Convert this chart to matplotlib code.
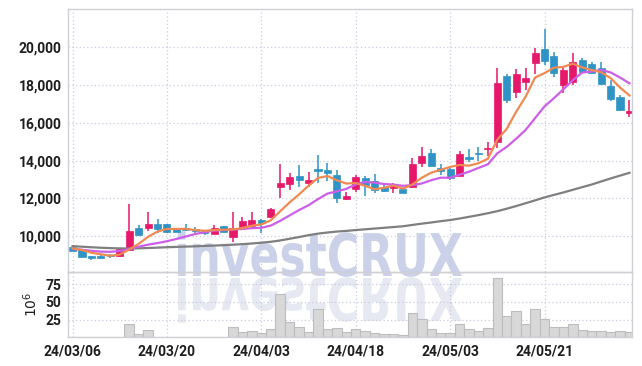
import matplotlib
matplotlib.use('Agg')
import matplotlib.pyplot as plt
import numpy as np
from datetime import date
from matplotlib.textpath import TextPath
from matplotlib.patches import PathPatch
from matplotlib.font_manager import FontProperties
from matplotlib.transforms import Affine2D, IdentityTransform
from matplotlib.ticker import FuncFormatter, FixedLocator

# ---------------- data ----------------
dates = [
    "2024-03-06", "2024-03-07", "2024-03-08", "2024-03-11", "2024-03-12", "2024-03-13", "2024-03-14", "2024-03-15",
    "2024-03-18", "2024-03-19", "2024-03-20", "2024-03-21", "2024-03-22", "2024-03-25", "2024-03-26", "2024-03-27",
    "2024-03-28", "2024-03-29", "2024-04-01", "2024-04-02", "2024-04-03", "2024-04-04", "2024-04-05", "2024-04-08",
    "2024-04-09", "2024-04-11", "2024-04-12", "2024-04-15", "2024-04-16", "2024-04-17", "2024-04-18", "2024-04-19",
    "2024-04-22", "2024-04-23", "2024-04-24", "2024-04-25", "2024-04-26", "2024-04-29", "2024-04-30", "2024-05-02",
    "2024-05-03", "2024-05-07", "2024-05-08", "2024-05-09", "2024-05-10", "2024-05-13", "2024-05-14", "2024-05-16",
    "2024-05-17", "2024-05-20", "2024-05-21", "2024-05-22", "2024-05-23", "2024-05-24", "2024-05-27", "2024-05-28",
    "2024-05-29", "2024-05-30", "2024-05-31", "2024-06-03",
]

open_ = [9430, 9300, 8970, 8980, 8970, 8970, 9300, 10450, 10420, 10640,
         10630, 10390, 10420, 10400, 10300, 10110, 10540, 9950, 10510, 10560,
         10860, 11000, 12630, 12780, 13190, 12810, 13540, 13510, 13240, 11950,
         12520, 13110, 12920, 12620, 12540, 12520, 12590, 13870, 14390, 13600,
         13550, 13210, 14210, 14420, 14600, 15005, 18480, 17650, 18180, 19185,
         19910, 19540, 18000, 18180, 19330, 19120, 18920, 17950, 17390, 16530]
high = [9450, 9330, 8980, 9000, 9060, 9310, 11700, 10600, 11290, 10900,
        10650, 10400, 10650, 10480, 10320, 10600, 10560, 11290, 11000, 11270,
        10900, 11480, 13800, 13360, 13770, 13400, 14300, 13870, 13510, 12330,
        13240, 13190, 13290, 12770, 12830, 12580, 14130, 14710, 14600, 13800,
        13740, 14530, 14600, 14710, 14970, 18890, 18590, 18840, 18890, 19950,
        20950, 19770, 18970, 19710, 19420, 19240, 19210, 18270, 17480, 17230]
low = [9220, 8880, 8730, 8800, 8840, 8920, 9250, 10020, 10300, 10180,
       10150, 10230, 10280, 10180, 10060, 10100, 10240, 9700, 10480, 10480,
       10150, 10990, 12010, 12450, 12630, 12620, 12800, 12900, 11750, 11900,
       12340, 12130, 12280, 12340, 12280, 12290, 12540, 13650, 13700, 13240,
       12990, 13200, 13950, 13980, 14250, 14650, 17040, 17300, 17740, 18590,
       19060, 18440, 17570, 18010, 18660, 18570, 18010, 17160, 16650, 16330]
close = [9240, 8890, 8840, 8870, 8940, 9310, 10280, 10070, 10640, 10380,
         10250, 10250, 10320, 10270, 10150, 10450, 10250, 10420, 10810, 10870,
         10700, 11420, 12840, 13140, 12990, 12980, 13480, 13360, 12010, 12130,
         13120, 12720, 12460, 12410, 12710, 12310, 13820, 14250, 13740, 13470,
         13070, 14340, 14070, 14380, 14650, 18130, 17210, 18590, 18360, 19715,
         19290, 18660, 18800, 19200, 18710, 18620, 18060, 17270, 16680, 16630]

ma5 = [9365, 9275, 9132, 9048, 8970, 9030, 9300, 9600, 9970, 10250,
       10390, 10390, 10390, 10330, 10290, 10330, 10350, 10360, 10440, 10560,
       10630, 10844, 11328, 11794, 12218, 12674, 13086, 13190, 12964, 12792,
       12820, 12668, 12488, 12568, 12684, 12522, 12742, 13100, 13366, 13518,
       13670, 13774, 13738, 13866, 14102, 15114, 15688, 16592, 17388, 18401,
       18633, 18923, 18965, 19133, 18932, 18798, 18678, 18372, 17868, 17450]
ma10 = [9330, 9290, 9230, 9190, 9180, 9220, 9330, 9450, 9560, 9640,
        9740, 9860, 9990, 10120, 10220, 10300, 10330, 10360, 10390, 10430,
        10450, 10566, 10818, 11105, 11389, 11642, 11965, 12259, 12379, 12505,
        12747, 12877, 12839, 12766, 12738, 12671, 12705, 12794, 12967, 13101,
        13096, 13258, 13419, 13616, 13810, 14392, 14731, 15165, 15627, 16252,
        16874, 17306, 17779, 18261, 18667, 18716, 18801, 18669, 18401, 18092]
ma60 = [9480, 9450, 9420, 9395, 9375, 9360, 9355, 9365, 9380, 9400,
        9420, 9440, 9455, 9470, 9490, 9510, 9530, 9555, 9585, 9620,
        9660, 9710, 9780, 9870, 9960, 10060, 10140, 10200, 10250, 10285,
        10330, 10370, 10410, 10450, 10490, 10530, 10600, 10670, 10730, 10800,
        10860, 10940, 11030, 11120, 11220, 11330, 11460, 11600, 11750, 11900,
        12060, 12190, 12320, 12460, 12600, 12740, 12900, 13060, 13210, 13360]

volume = [0, 1, 1, 0, 0, 1, 18.6, 4.6, 10.6, 1,
          1, 0, 1, 0, 0, 1, 1, 14.4, 7.8, 9.2,
          6.4, 11.6, 61, 21.4, 14.8, 7.8, 40, 12, 13.4, 7.8,
          11.6, 9.2, 6, 4.6, 4, 3, 34.4, 25.5, 11.6, 6.4,
          6, 18.6, 11.6, 9.2, 13, 84, 29.7, 36.7, 18.6, 40,
          25.5, 14.8, 14.4, 18.6, 10.6, 9.2, 9.2, 7.8, 9.2, 7.8]

price_ticks = [10000, 12000, 14000, 16000, 18000, 20000]
volume_ticks = [25, 50, 75]
label_every = 10

# ---------------- style ----------------
RED = '#e5186a'
BLUE = '#2f93c6'
ORANGE = '#ef8a52'
MAGENTA = '#cc5ee8'
GRAY = '#7f7f7f'
GRID = '#c8cce0'
SPINE = '#cfcfd6'
TXT = '#1e1e1e'
tick_font = ['Roboto', 'DejaVu Sans']

W, H = 642, 366
fig = plt.figure(figsize=(W / 100, H / 100), dpi=100)
fig.patch.set_facecolor('white')

L, R = 68.3, 632.3
T_main, B_main, B_vol = 9.0, 272.3, 337.3
ax = fig.add_axes([L / W, 1 - B_main / H, (R - L) / W, (B_main - T_main) / H])
ax2 = fig.add_axes([L / W, 1 - B_vol / H, (R - L) / W, (B_vol - B_main) / H], sharex=ax)
for a in (ax, ax2):
    a.set_facecolor('none')
    for s in a.spines.values():
        s.set_color(SPINE)
        s.set_linewidth(1.0)
    a.grid(True, linestyle=(0, (1, 2)), color=GRID, linewidth=0.9)
    a.set_axisbelow(True)
    a.tick_params(length=0, pad=5, labelsize=10, labelcolor=TXT)

x = np.arange(len(dates))
o = np.array(open_, float); h = np.array(high, float)
l = np.array(low, float); c = np.array(close, float)
up = c >= o
cols = np.where(up, RED, BLUE)

ax.vlines(x, l, h, colors=cols, linewidth=1.1, zorder=2)
body_bottom = np.minimum(o, c)
body_h = np.maximum(np.abs(c - o), 45)
ax.bar(x, body_h, 0.75, bottom=body_bottom, color=cols, edgecolor=cols, linewidth=0.5, zorder=2.5)

ax.plot(x, ma60, color=GRAY, lw=1.6, zorder=3)
ax.plot(x, ma10, color=MAGENTA, lw=1.6, zorder=3)
ax.plot(x, ma5, color=ORANGE, lw=1.6, zorder=3)

ax2.bar(x, volume, 1.0, color='#d8d8d8', edgecolor='#bdbdbd', linewidth=0.8, zorder=2)

ax.set_xlim(-0.45, 59.3)
ax.set_ylim(8095, 22026)
ax2.set_ylim(0, 92)

ax.yaxis.set_major_locator(FixedLocator(price_ticks))
ax.yaxis.set_major_formatter(FuncFormatter(lambda v, p: f"{int(v):,}"))
ax2.yaxis.set_major_locator(FixedLocator(volume_ticks))

tick_pos = list(range(0, len(dates), label_every))
tick_lab = [date.fromisoformat(dates[i]).strftime('%y/%m/%d') for i in tick_pos]
ax2.set_xticks(tick_pos)
ax2.set_xticklabels(tick_lab)
ax.tick_params(labelbottom=False)

for a in (ax, ax2):
    for t in a.get_yticklabels() + a.get_xticklabels():
        t.set_family(tick_font)
        t.set_fontweight('bold')

ax2.set_ylabel(r'$10^6$', fontsize=10, color=TXT, labelpad=4)

# watermark with reflection
fp = FontProperties(family='DejaVu Sans', weight='bold')
tp = TextPath((0, 0), 'investCRUX', size=100, prop=fp)
ext = tp.get_extents()
sx = 284 / ext.width
sy = 43 / 73.0
tr = Affine2D().translate(-ext.x0, 0).scale(sx, sy).translate(178, H - 276)
fig.add_artist(PathPatch(tp, transform=tr + IdentityTransform(), facecolor='#cbd1e8',
                         edgecolor='none', zorder=-1))
tr2 = Affine2D().translate(-ext.x0, 0).scale(sx, -sy).translate(178, H - 278)
fig.add_artist(PathPatch(tp, transform=tr2 + IdentityTransform(), facecolor='#e6e8f2',
                         edgecolor='none', zorder=-1))

fig.savefig('out.png', dpi=100, facecolor='white')
